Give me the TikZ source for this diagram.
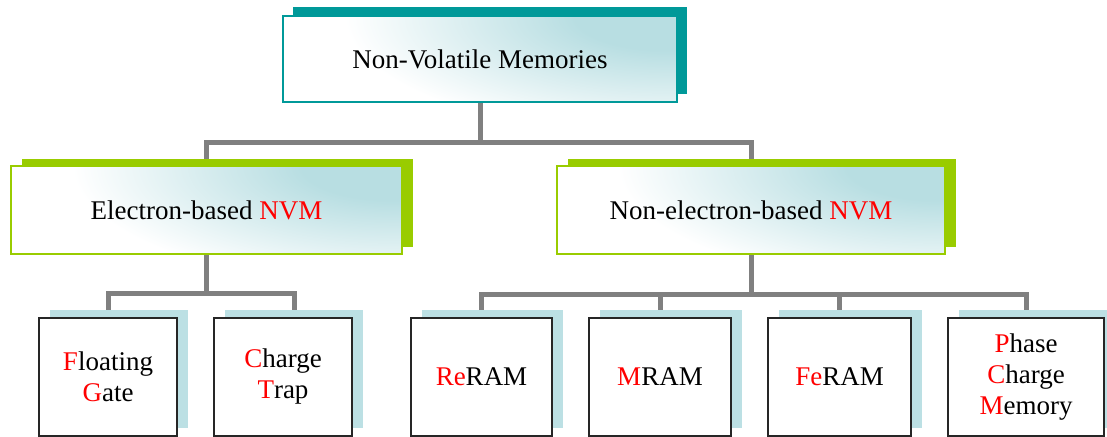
\documentclass[tikz,border=0pt]{standalone}
\usepackage{fontspec}
\setmainfont{Liberation Serif}
\newfontfamily\timesf{Liberation Serif}
\usetikzlibrary{shadows,backgrounds}
\definecolor{tealD}{RGB}{0,153,153}
\definecolor{greenD}{RGB}{153,204,0}
\definecolor{shadeT}{RGB}{188,224,228}
\definecolor{gradT}{RGB}{184,222,226}
\definecolor{grayC}{RGB}{128,128,128}
\definecolor{boxB}{RGB}{38,38,38}
\definecolor{redT}{RGB}{255,0,0}
\pgfdeclareradialshading{glowsh}{\pgfpoint{0bp}{0bp}}{color(0bp)=(gradT); color(6bp)=(gradT); color(21bp)=(white); color(50bp)=(white)}
\begin{document}
\begin{tikzpicture}[x=1pt,y=-1pt,
  conn/.style={draw=grayC, line width=5pt},
  txt/.style={font=\timesf\fontsize{27}{31}\selectfont, align=center, inner sep=0pt, text=black},
  glow/.style={fill=white, path picture={
     \shade[shading=glowsh]
       ([shift={(-375,-143)}]path picture bounding box.north east) rectangle
       ([shift={(375,143)}]path picture bounding box.north east);}},
  topbox/.style={txt, draw=tealD, line width=1.3pt, glow,
     general shadow={fill=tealD, shadow xshift=10pt, shadow yshift=8.5pt},
     minimum width=394pt, minimum height=86pt},
  midbox/.style={txt, draw=greenD, line width=1.3pt, glow,
     general shadow={fill=greenD, shadow xshift=11pt, shadow yshift=7.5pt},
     minimum height=88pt},
  leafbox/.style={txt, draw=boxB, line width=2pt, fill=white,
     general shadow={fill=shadeT, shadow xshift=11pt, shadow yshift=8pt},
     minimum height=118pt}
]
\useasboundingbox (0,0) rectangle (1107,436);
\clip (0,0) rectangle (1107,436);

\node[topbox] (nvm) at (480,59) {Non-Volatile Memories};
\node[midbox, minimum width=391pt] (ele) at (206.5,210) {Electron-based {\color{redT}NVM}};
\node[midbox, minimum width=388pt] (non) at (751,210) {Non-electron-based {\color{redT}NVM}};

\node[leafbox, minimum width=138pt] (fg) at (108,377) {{\color{redT}F}loating\\{\color{redT}G}ate};
\node[leafbox, minimum width=138pt] (ct) at (283,377) {{\color{redT}C}harge\\{\color{redT}T}rap};
\node[leafbox, minimum width=141pt] (re) at (481.5,377) {{\color{redT}Re}RAM};
\node[leafbox, minimum width=142pt] (mr) at (660,377) {{\color{redT}M}RAM};
\node[leafbox, minimum width=143pt] (fe) at (839.5,377) {{\color{redT}Fe}RAM};
\node[leafbox, minimum width=156pt] (pcm) at (1026,377) {{\color{redT}P}hase\\{\color{redT}C}harge\\{\color{redT}M}emory};

\coordinate (busA) at (0,142);
\coordinate (busL) at (0,293);
\coordinate (busR) at (0,294);
\coordinate (ctTop) at ([xshift=11pt]ct.north);

\begin{scope}[on background layer]
  \draw[conn] (nvm.south) -- (nvm.south |- busA);
  \draw[conn] (ele.north) |- (busA -| nvm.south) -| (non.north);
  \draw[conn] (ele.south) -- (ele.south |- busL);
  \draw[conn] (fg.north) |- (busL -| ctTop) -- (ctTop);
  \draw[conn] (non.south) -- (non.south |- busR);
  \draw[conn] (re.north) |- (busR -| pcm.north) -- (pcm.north);
  \draw[conn] (mr.north) -- (mr.north |- busR);
  \draw[conn] (fe.north) -- (fe.north |- busR);
\end{scope}
\end{tikzpicture}
\end{document}
